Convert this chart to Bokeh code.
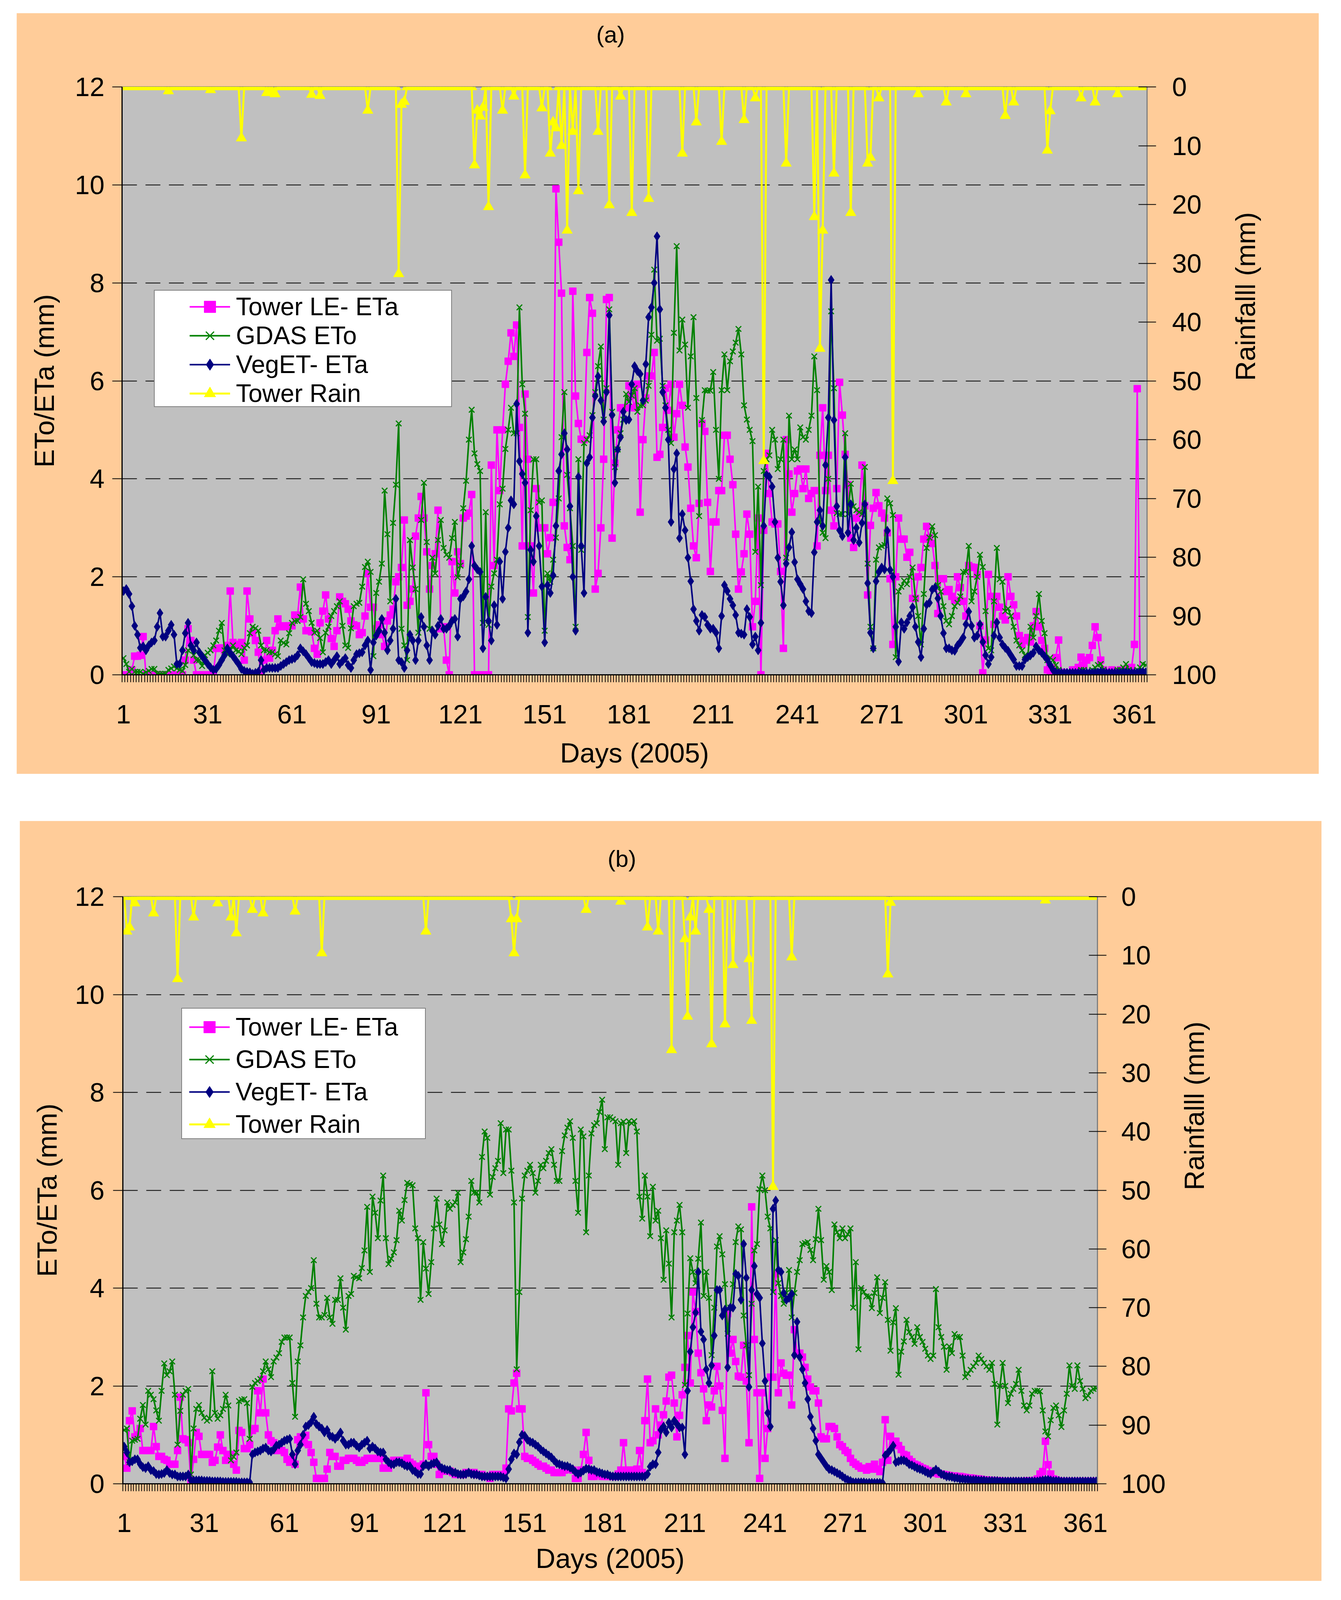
import math
from bokeh.plotting import figure
from bokeh.models import Range1d, LinearAxis, FixedTicker, Legend, LegendItem, Spacer, Title
from bokeh.layouts import column, row
from bokeh.embed import file_html
from bokeh.resources import INLINE

FONT = "Liberation Sans"

days = list(range(1, 366))
x_label_ticks = [1, 31, 61, 91, 121, 151, 181, 211, 241, 271, 301, 331, 361]
left_ticks = [0, 2, 4, 6, 8, 10, 12]
grid_ticks = [2, 4, 6, 8, 10]
rain_ticks = [0, 10, 20, 30, 40, 50, 60, 70, 80, 90, 100]
series_names = ["Tower LE- ETa", "GDAS ETo", "VegET- ETa", "Tower Rain"]
x_title = "Days (2005)"
y_title = "ETo/ETa (mm)"
y2_title = "Rainfalll (mm)"

# ---------------- Panel (a) ----------------
tower_a = [
 0.0, 0.0, 0.0, 0.1, 0.38, 0.38, 0.4, 0.78, 0.0, 0.0,
 0.0, 0.0, 0.0, 0.0, 0.0, 0.0, 0.0, 0.0, 0.0, 0.0,
 0.0, 0.0, 0.3, 0.94, 0.7, 0.3, 0.0, 0.0, 0.0, 0.0,
 0.0, 0.0, 0.02, 0.54, 0.54, 0.55, 0.5, 0.6, 1.71, 0.66,
 0.62, 0.6, 0.66, 0.3, 1.71, 1.14, 0.85, 0.7, 0.46, 0.02,
 0.3, 0.7, 0.34, 0.5, 0.9, 1.14, 0.98, 1.0, 0.98, 1.0,
 1.0, 1.22, 1.22, 1.79, 1.14, 0.9, 0.9, 0.88, 0.54, 0.42,
 1.06, 1.3, 1.63, 1.14, 0.74, 0.58, 0.9, 1.59, 1.5, 1.45,
 1.34, 1.1, 1.02, 1.0, 0.82, 0.86, 1.2, 2.07, 1.38, 1.38,
 0.94, 1.02, 0.82, 0.58, 1.1, 1.22, 1.34, 1.9, 2.0, 2.19,
 3.16, 1.42, 1.5, 1.75, 2.83, 3.2, 3.64, 3.2, 2.51, 1.75,
 2.23, 2.47, 3.36, 0.94, 0.98, 0.3, 0.0, 2.31, 1.67, 2.51,
 2.27, 3.2, 3.24, 3.3, 3.68, 0.0, 0.0, 0.0, 0.0, 0.0,
 0.0, 4.28, 2.23, 5.0, 3.76, 5.0, 5.93, 6.4, 6.98, 6.5,
 7.14, 5.05, 2.63, 5.73, 4.4, 2.63, 1.67, 3.8, 3.0, 3.0,
 3.0, 2.47, 2.8, 3.52, 9.92, 8.83, 7.79, 3.04, 2.6, 2.35,
 7.83, 5.69, 5.13, 4.81, 4.8, 6.58, 7.7, 7.38, 1.75, 2.07,
 3.0, 4.4, 7.66, 7.7, 2.79, 4.32, 5.0, 5.45, 5.45, 5.45,
 5.9, 5.7, 5.45, 5.93, 3.32, 4.8, 5.65, 6.1, 6.1, 6.58,
 4.44, 4.5, 5.05, 5.85, 5.4, 5.93, 4.85, 5.33, 5.93, 5.5,
 4.65, 4.24, 3.4, 2.63, 2.39, 3.5, 5.13, 4.97, 3.52, 2.11,
 3.12, 3.12, 3.76, 3.76, 4.89, 4.89, 4.4, 3.88, 2.87, 1.75,
 2.1, 2.47, 3.28, 2.87, 0.98, 1.5, 3.2, 0.0, 2.95, 4.52,
 3.7, 3.12, 3.08, 3.08, 2.11, 0.54, 4.8, 4.1, 3.32, 3.7,
 4.16, 4.2, 3.8, 4.2, 3.6, 3.7, 3.76, 2.63, 4.48, 5.45,
 3.76, 4.48, 3.36, 3.04, 3.8, 5.97, 5.3, 4.5, 3.88, 2.79,
 2.6, 3.2, 3.3, 4.28, 3.45, 1.63, 3.05, 3.4, 3.72, 3.45,
 3.3, 3.2, 2.9, 1.96, 0.62, 2.0, 3.2, 2.77, 2.77, 2.4,
 2.5, 1.56, 1.56, 2.0, 2.19, 2.77, 3.03, 2.8, 2.68, 2.23,
 1.25, 1.96, 1.96, 1.7, 1.74, 1.6, 1.52, 2.0, 1.78, 1.5,
 1.2, 2.23, 2.2, 2.19, 2.05, 1.0, 0.04, 0.71, 2.05, 1.6,
 1.03, 1.6, 1.38, 1.2, 1.12, 2.0, 1.6, 1.43, 1.2, 0.8,
 0.62, 0.7, 0.76, 0.67, 1.0, 1.29, 0.98, 0.7, 0.54, 0.1,
 0.05, 0.1, 0.35, 0.71, 0.05, 0.05, 0.0, 0.0, 0.1, 0.1,
 0.15, 0.36, 0.2, 0.3, 0.35, 0.6, 0.98, 0.76, 0.3, 0.1,
 0.05, 0.05, 0.1, 0.05, 0.05, 0.1, 0.05, 0.1, 0.1, 0.15,
 0.62, 5.84, 0.02, 0.0, 0.0]

gdas_a = [
 0.34, 0.22, 0.06, 0.12, 0.06, 0.06, 0.06, 0.02, 0.05, 0.08,
 0.12, 0.12, 0.02, 0.02, 0.02, 0.02, 0.1, 0.13, 0.17, 0.13,
 0.1, 0.08, 0.2, 0.5, 0.54, 0.4, 0.3, 0.3, 0.18, 0.4,
 0.45, 0.5, 0.6, 0.7, 0.9, 1.06, 0.5, 0.42, 0.5, 0.6,
 0.5, 0.48, 0.42, 0.55, 0.6, 0.85, 0.98, 0.95, 0.9, 0.6,
 0.5, 0.5, 0.46, 0.46, 0.42, 0.38, 0.7, 0.65, 0.62, 0.85,
 1.06, 1.1, 1.1, 1.18, 1.95, 1.45, 1.3, 1.06, 0.86, 0.9,
 0.75, 0.46, 0.86, 0.98, 1.2, 1.3, 1.4, 1.5, 1.0, 0.6,
 0.55, 0.95, 1.4, 1.45, 1.47, 1.8, 2.2, 2.31, 2.1, 0.38,
 1.67, 1.9, 2.27, 3.76, 2.87, 1.5, 3.1, 3.88, 5.13, 0.94,
 0.6, 0.3, 2.75, 2.19, 1.75, 0.86, 3.16, 3.92, 2.71, 0.94,
 2.39, 2.07, 2.75, 3.16, 2.59, 2.45, 2.39, 2.79, 3.12, 1.99,
 2.23, 3.4, 3.96, 4.8, 5.41, 4.52, 4.3, 4.16, 1.06, 3.32,
 1.02, 1.8, 2.07, 2.35, 3.48, 3.8, 4.61, 5.0, 5.45, 4.93,
 4.93, 7.5, 5.93, 5.33, 1.18, 3.36, 4.4, 4.4, 3.52, 3.56,
 0.9, 2.07, 1.9, 2.35, 2.8, 3.6, 4.85, 5.77, 4.08, 3.4,
 2.63, 0.98, 4.4, 2.55, 4.73, 4.8, 4.89, 5.3, 5.77, 6.3,
 6.7, 5.21, 5.85, 7.46, 5.37, 4.24, 4.6, 4.93, 5.21, 5.73,
 5.57, 5.7, 5.85, 5.37, 5.5, 5.5, 5.6, 5.9, 6.94, 8.27,
 6.82, 6.86, 5.9, 5.5, 5.0, 4.73, 6.98, 8.75, 6.62, 7.25,
 6.74, 5.45, 6.5, 7.3, 5.65, 3.24, 5.2, 5.81, 5.8, 5.8,
 6.18, 5.0, 4.0, 5.81, 6.54, 5.81, 6.4, 6.6, 6.78, 7.06,
 6.54, 5.5, 5.21, 5.0, 4.77, 2.51, 3.84, 1.83, 4.16, 4.4,
 4.48, 5.0, 4.8, 4.2, 4.4, 4.8, 2.39, 5.29, 4.4, 4.6,
 4.4, 5.05, 4.85, 4.8, 5.0, 5.29, 6.5, 5.81, 3.12, 2.9,
 2.79, 4.0, 7.42, 5.85, 3.3, 3.28, 3.28, 4.93, 3.28, 3.9,
 3.44, 3.36, 3.32, 3.28, 4.24, 2.27, 0.98, 0.54, 2.35, 2.6,
 2.63, 2.65, 3.6, 3.5, 3.26, 0.36, 1.7, 1.8, 1.92, 1.85,
 2.0, 2.19, 1.56, 1.2, 0.62, 1.65, 2.59, 2.8, 3.03, 2.85,
 1.83, 1.7, 1.4, 1.1, 1.03, 1.2, 1.4, 1.47, 1.6, 2.1,
 2.1, 2.63, 1.5, 1.7, 2.0, 2.45, 2.2, 1.3, 0.54, 0.5,
 1.5, 2.59, 1.95, 1.9, 1.3, 1.35, 1.2, 0.98, 0.7, 0.6,
 0.5, 0.4, 0.36, 0.98, 0.76, 1.2, 1.65, 1.1, 0.85, 0.3,
 0.35, 0.3, 0.2, 0.1, 0.04, 0.05, 0.05, 0.05, 0.05, 0.05,
 0.05, 0.1, 0.1, 0.05, 0.05, 0.1, 0.15, 0.2, 0.22, 0.1,
 0.05, 0.05, 0.05, 0.05, 0.1, 0.1, 0.15, 0.22, 0.1, 0.05,
 0.05, 0.1, 0.15, 0.22, 0.2]

veget_a = [
 1.71, 1.75, 1.65, 1.4, 1.0, 0.82, 0.55, 0.58, 0.5, 0.6,
 0.66, 0.7, 0.98, 1.26, 0.78, 0.78, 0.9, 1.02, 0.82, 0.22,
 0.22, 0.5, 0.85, 1.06, 0.6, 0.5, 0.66, 0.46, 0.38, 0.3,
 0.22, 0.15, 0.1, 0.12, 0.2, 0.3, 0.4, 0.54, 0.45, 0.38,
 0.3, 0.22, 0.12, 0.08, 0.06, 0.05, 0.02, 0.04, 0.06, 0.3,
 0.1, 0.14, 0.14, 0.14, 0.14, 0.14, 0.18, 0.22, 0.26, 0.3,
 0.32, 0.34, 0.4, 0.54, 0.48, 0.42, 0.34, 0.26, 0.24, 0.22,
 0.22, 0.22, 0.26, 0.3, 0.22, 0.3, 0.38, 0.22, 0.28, 0.34,
 0.2, 0.14, 0.3, 0.42, 0.44, 0.46, 0.6, 0.7, 0.1, 0.66,
 0.8, 0.9, 1.14, 0.86, 0.5, 0.7, 0.94, 1.55, 0.3, 0.26,
 0.14, 0.5, 0.82, 0.7, 0.3, 0.7, 1.18, 0.98, 0.6, 0.3,
 0.9, 0.82, 1.0, 1.14, 0.94, 0.94, 1.0, 1.1, 1.14, 0.78,
 1.55, 1.6, 1.7, 1.95, 2.63, 2.23, 2.15, 2.1, 0.54, 1.59,
 1.1, 0.7, 1.42, 1.02, 2.31, 1.55, 2.51, 3.0, 3.56, 3.48,
 5.53, 4.36, 4.1, 3.92, 0.86, 2.55, 2.31, 3.24, 2.63, 1.8,
 0.66, 1.83, 1.67, 2.03, 3.04, 4.16, 4.5, 4.93, 4.6, 3.44,
 2.0, 0.9, 4.04, 2.63, 1.67, 4.32, 4.44, 5.25, 5.69, 6.09,
 5.6, 5.17, 5.77, 7.34, 5.3, 3.92, 4.6, 4.85, 5.37, 5.2,
 5.21, 5.93, 6.3, 6.2, 6.14, 5.6, 6.34, 7.3, 7.5, 8.0,
 8.95, 7.46, 5.77, 5.45, 4.8, 3.12, 4.2, 4.52, 2.79, 3.28,
 2.95, 2.39, 1.91, 1.34, 1.1, 0.9, 1.22, 1.18, 1.02, 0.94,
 0.94, 0.86, 0.54, 1.2, 1.83, 1.71, 1.55, 1.42, 1.22, 0.86,
 0.84, 0.82, 1.34, 1.18, 0.62, 0.78, 0.5, 1.06, 3.04, 4.08,
 4.04, 3.84, 3.12, 2.39, 1.9, 1.42, 2.27, 2.6, 2.91, 2.3,
 1.95, 1.85, 1.75, 1.5, 1.3, 1.26, 2.5, 3.12, 3.36, 3.04,
 4.28, 5.25, 8.06, 5.2, 3.44, 2.95, 2.83, 4.44, 2.9, 3.48,
 2.75, 3.0, 2.7, 3.1, 3.48, 1.87, 0.86, 0.54, 1.91, 2.1,
 2.19, 2.15, 2.94, 2.14, 2.0, 0.98, 0.27, 1.07, 0.94, 1.07,
 1.2, 1.38, 0.98, 0.67, 0.36, 0.94, 1.43, 1.47, 1.74, 1.78,
 1.56, 1.2, 0.85, 0.54, 0.54, 0.5, 0.49, 0.6, 0.67, 0.76,
 1.03, 1.29, 1.0, 0.76, 0.8, 1.03, 0.67, 0.4, 0.22, 0.36,
 0.8, 1.07, 0.76, 0.62, 0.55, 0.49, 0.4, 0.31, 0.18, 0.18,
 0.18, 0.31, 0.36, 0.4, 0.45, 0.58, 0.5, 0.45, 0.38, 0.31,
 0.2, 0.1, 0.05, 0.04, 0.04, 0.04, 0.04, 0.04, 0.04, 0.04,
 0.04, 0.04, 0.04, 0.04, 0.04, 0.04, 0.04, 0.05, 0.06, 0.05,
 0.04, 0.04, 0.04, 0.04, 0.04, 0.04, 0.05, 0.05, 0.04, 0.04,
 0.04, 0.04, 0.05, 0.06, 0.05]

rain_a_days = [17, 32, 43, 52, 54, 55, 68, 71, 88, 99, 100, 101, 126, 127, 128, 129, 131,
               136, 140, 144, 150, 153, 154, 155, 157, 159, 161, 163, 170, 174, 178, 182,
               188, 200, 205, 214, 222, 226, 229, 237, 247, 249, 250, 254, 260, 266, 267,
               270, 275, 284, 294, 301, 315, 318, 330, 331, 342, 347, 355]
rain_a_mm = [0.7, 0.5, 8.7, 1.0, 0.8, 1.2, 1.3, 1.5, 4.0, 31.8, 3.0, 2.5, 13.3, 4.0, 5.0, 3.5, 20.4,
             4.0, 1.6, 15.0, 3.6, 11.3, 6.0, 7.0, 10.0, 24.4, 7.6, 17.7, 7.6, 20.1, 1.6, 21.4,
             19.0, 11.3, 6.0, 9.3, 5.6, 1.9, 63.6, 13.0, 22.1, 44.5, 24.4, 14.7, 21.4, 13.0, 12.0,
             1.9, 67.0, 1.2, 2.6, 1.2, 4.9, 2.6, 10.8, 4.1, 1.9, 2.6, 1.2]

# ---------------- Panel (b) ----------------
tower_b = [
 0.56, 0.32, 1.29, 1.49, 0.96, 1.0, 1.13, 0.68, 0.68, 0.68,
 0.68, 1.17, 0.76, 0.56, 0.56, 0.5, 0.48, 0.4, 0.4, 0.4,
 0.68, 1.77, 0.92, 0.9, 0.84, 0.03, 0.5, 1.05, 0.97, 0.6,
 0.6, 0.6, 0.6, 0.44, 0.48, 0.75, 1.0, 0.68, 0.48, 0.6,
 0.6, 0.4, 0.28, 1.09, 1.05, 0.72, 0.72, 0.8, 1.09, 1.13,
 1.9, 1.45, 2.14, 1.45, 1.0, 0.88, 0.84, 0.68, 0.68, 0.68,
 0.64, 0.5, 0.44, 0.48, 0.4, 0.9, 0.96, 0.84, 0.99, 0.8,
 0.64, 0.44, 0.11, 0.11, 0.11, 0.11, 0.3, 0.64, 0.56, 0.56,
 0.36, 0.36, 0.48, 0.48, 0.52, 0.52, 0.52, 0.48, 0.44, 0.44,
 0.48, 0.52, 0.52, 0.52, 0.52, 0.52, 0.52, 0.32, 0.32, 0.32,
 0.44, 0.48, 0.48, 0.48, 0.48, 0.44, 0.52, 0.44, 0.4, 0.36,
 0.36, 0.36, 0.4, 1.86, 0.8, 0.56, 0.56, 0.4, 0.19, 0.26,
 0.26, 0.26, 0.26, 0.23, 0.19, 0.19, 0.19, 0.19, 0.23, 0.23,
 0.23, 0.23, 0.19, 0.19, 0.19, 0.15, 0.15, 0.11, 0.19, 0.19,
 0.19, 0.19, 0.19, 0.32, 1.53, 1.49, 2.06, 2.26, 1.53, 1.53,
 0.56, 0.52, 0.52, 0.48, 0.44, 0.4, 0.36, 0.36, 0.32, 0.28,
 0.28, 0.23, 0.23, 0.23, 0.23, 0.28, 0.32, 0.3, 0.28, 0.11,
 0.11, 0.28, 0.6, 1.05, 0.48, 0.15, 0.15, 0.19, 0.19, 0.15,
 0.15, 0.15, 0.15, 0.15, 0.15, 0.2, 0.28, 0.84, 0.28, 0.28,
 0.28, 0.28, 0.3, 0.68, 0.23, 1.29, 2.14, 0.84, 0.88, 1.53,
 1.0, 1.2, 1.41, 1.69, 2.18, 2.22, 1.65, 0.96, 1.4, 1.82,
 2.38, 3.03, 2.06, 3.92, 3.52, 2.67, 2.27, 1.94, 1.29, 1.61,
 1.57, 1.9, 2.4, 2.0, 1.5, 0.52, 3.48, 2.67, 2.95, 2.5,
 2.2, 2.18, 2.83, 2.1, 0.84, 5.66, 2.95, 1.86, 0.11, 1.86,
 0.52, 1.13, 2.18, 2.18, 4.29, 1.86, 2.47, 2.26, 2.22, 2.22,
 1.61, 3.15, 2.67, 2.67, 2.59, 2.38, 2.14, 1.98, 1.9, 1.9,
 1.65, 0.96, 0.92, 0.92, 1.17, 1.17, 1.13, 0.96, 0.8, 0.76,
 0.68, 0.64, 0.52, 0.44, 0.4, 0.36, 0.32, 0.32, 0.28, 0.35,
 0.3, 0.4, 0.3, 0.25, 0.44, 1.31, 0.48, 0.97, 0.87, 0.87,
 0.78, 0.7, 0.6, 0.58, 0.5, 0.45, 0.4, 0.38, 0.35, 0.32,
 0.3, 0.27, 0.25, 0.24, 0.22, 0.2, 0.2, 0.19, 0.18, 0.17,
 0.16, 0.16, 0.15, 0.15, 0.14, 0.13, 0.12, 0.12, 0.11, 0.1,
 0.1, 0.09, 0.08, 0.08, 0.07, 0.07, 0.06, 0.06, 0.06, 0.05,
 0.05, 0.05, 0.05, 0.05, 0.05, 0.05, 0.05, 0.05, 0.06, 0.06,
 0.06, 0.07, 0.1, 0.2, 0.25, 0.87, 0.39, 0.2, 0.1, 0.08,
 0.06, 0.05, 0.05, 0.05, 0.05, 0.05, 0.05, 0.05, 0.05, 0.05,
 0.05, 0.05, 0.05, 0.05, 0.05]

gdas_b = [
 1.1, 1.13, 0.44, 0.88, 0.9, 0.92, 1.33, 1.61, 1.21, 1.9,
 1.82, 1.73, 1.5, 1.29, 1.9, 2.46, 2.22, 2.3, 2.5, 1.82,
 0.8, 1.49, 1.82, 1.9, 1.94, 0.19, 1.13, 1.53, 1.61, 1.45,
 1.35, 1.29, 1.33, 2.3, 1.45, 1.33, 1.4, 1.53, 1.82, 1.6,
 0.48, 0.55, 0.64, 1.69, 1.72, 1.73, 1.65, 0.92, 1.98, 2.06,
 2.1, 2.14, 2.3, 2.5, 2.34, 2.18, 2.5, 2.58, 2.67, 2.9,
 2.99, 2.99, 2.99, 2.06, 1.37, 2.5, 2.83, 3.4, 3.84, 3.92,
 4.0, 4.57, 3.68, 3.4, 3.4, 3.45, 3.8, 3.4, 3.27, 3.76,
 3.76, 4.2, 3.6, 3.15, 3.84, 3.88, 4.25, 4.22, 4.2, 4.41,
 4.77, 5.66, 4.33, 5.87, 5.54, 5.02, 5.79, 6.3, 5.02, 4.49,
 4.6, 4.73, 4.98, 5.58, 5.38, 5.8, 6.15, 6.12, 6.1, 5.22,
 5.02, 3.76, 4.94, 4.4, 3.88, 4.53, 5.22, 5.83, 5.3, 4.9,
 5.18, 5.75, 5.62, 5.7, 5.75, 5.95, 4.53, 4.73, 5.0, 5.46,
 6.19, 5.95, 5.95, 5.75, 6.68, 7.2, 7.07, 5.91, 6.27, 6.45,
 6.6, 7.37, 6.35, 7.24, 7.24, 6.4, 5.75, 2.34, 3.92, 5.83,
 6.3, 6.4, 6.52, 6.35, 5.95, 6.19, 6.52, 6.45, 6.6, 6.76,
 6.84, 6.52, 6.19, 6.19, 6.8, 7.12, 7.28, 7.41, 7.07, 6.19,
 5.54, 7.24, 7.1, 5.14, 6.3, 7.16, 7.33, 7.37, 7.6, 7.85,
 6.84, 7.49, 7.49, 7.45, 7.41, 6.52, 7.37, 7.4, 6.76, 7.41,
 7.37, 7.41, 7.2, 5.87, 5.42, 6.3, 5.87, 5.06, 6.07, 5.38,
 5.58, 5.02, 4.17, 5.18, 4.5, 3.4, 5.14, 5.38, 5.7, 5.14,
 2.02, 3.48, 4.61, 4.33, 4.1, 4.6, 5.34, 3.84, 4.33, 3.8,
 2.63, 3.6, 4.85, 5.06, 4.69, 4.08, 3.07, 3.6, 4.08, 4.94,
 5.26, 5.2, 3.44, 2.83, 2.22, 3.68, 4.77, 4.9, 6.02, 6.3,
 6.0, 5.46, 5.22, 3.92, 4.98, 4.1, 3.84, 3.68, 3.9, 4.37,
 3.4, 3.9, 4.33, 4.57, 4.9, 4.92, 4.94, 4.78, 4.57, 5.0,
 5.62, 4.98, 4.17, 4.45, 4.33, 3.96, 5.3, 5.14, 5.02, 5.22,
 5.02, 5.1, 5.22, 3.6, 4.53, 2.75, 4.0, 3.92, 3.83, 3.83,
 3.59, 3.9, 4.22, 3.49, 3.8, 4.12, 3.35, 2.72, 3.3, 3.59,
 2.23, 2.7, 2.91, 3.35, 3.1, 3.0, 2.86, 3.2, 3.0, 2.9,
 2.76, 2.62, 2.55, 2.62, 3.98, 3.2, 3.0, 2.8, 2.33, 2.81,
 2.67, 3.06, 3.0, 3.0, 2.62, 2.18, 2.25, 2.33, 2.4, 2.47,
 2.62, 2.55, 2.47, 2.4, 2.33, 2.47, 2.04, 1.21, 2.0, 2.47,
 2.0, 1.65, 1.84, 1.94, 2.04, 2.33, 1.9, 1.6, 1.5, 1.6,
 1.84, 1.9, 1.9, 1.89, 1.5, 1.07, 0.97, 1.3, 1.55, 1.6,
 1.4, 1.16, 1.5, 1.84, 2.42, 2.0, 1.94, 2.42, 2.1, 1.94,
 1.75, 1.8, 1.9, 1.94, 1.95]

veget_b = [
 0.76, 0.64, 0.44, 0.46, 0.5, 0.5, 0.4, 0.34, 0.32, 0.36,
 0.28, 0.26, 0.2, 0.19, 0.2, 0.22, 0.28, 0.22, 0.19, 0.19,
 0.15, 0.15, 0.15, 0.15, 0.19, 0.07, 0.07, 0.07, 0.07, 0.07,
 0.06, 0.06, 0.06, 0.05, 0.05, 0.05, 0.05, 0.04, 0.04, 0.04,
 0.04, 0.04, 0.04, 0.03, 0.03, 0.03, 0.03, 0.03, 0.6, 0.64,
 0.66, 0.68, 0.72, 0.74, 0.68, 0.66, 0.7, 0.78, 0.8, 0.84,
 0.88, 0.9, 0.92, 0.6, 0.4, 0.68, 0.8, 1.0, 1.17, 1.2,
 1.26, 1.37, 1.22, 1.17, 1.13, 1.05, 1.1, 0.98, 0.96, 0.92,
 0.97, 1.05, 0.88, 0.8, 0.8, 0.84, 0.84, 0.78, 0.74, 0.8,
 0.84, 0.88, 0.72, 0.76, 0.72, 0.66, 0.64, 0.64, 0.5, 0.44,
 0.4, 0.4, 0.44, 0.44, 0.42, 0.38, 0.36, 0.36, 0.28, 0.25,
 0.2, 0.2, 0.36, 0.4, 0.36, 0.4, 0.42, 0.44, 0.36, 0.32,
 0.3, 0.28, 0.28, 0.23, 0.23, 0.2, 0.19, 0.19, 0.2, 0.23,
 0.2, 0.19, 0.19, 0.17, 0.15, 0.15, 0.15, 0.15, 0.15, 0.15,
 0.15, 0.15, 0.13, 0.11, 0.3, 0.5, 0.62, 0.6, 0.85, 1.0,
 0.98, 0.9, 0.86, 0.84, 0.8, 0.76, 0.7, 0.66, 0.62, 0.58,
 0.54, 0.48, 0.42, 0.4, 0.38, 0.36, 0.36, 0.33, 0.3, 0.24,
 0.2, 0.23, 0.27, 0.31, 0.3, 0.28, 0.28, 0.24, 0.23, 0.21,
 0.19, 0.19, 0.16, 0.15, 0.15, 0.15, 0.15, 0.15, 0.15, 0.15,
 0.15, 0.15, 0.15, 0.15, 0.15, 0.15, 0.2, 0.35, 0.4, 0.4,
 0.64, 1.1, 1.17, 1.05, 1.25, 1.15, 1.29, 1.22, 1.15, 1.15,
 0.6, 1.9, 2.7, 3.2, 3.5, 4.33, 3.11, 2.95, 2.34, 2.06,
 2.42, 3.03, 3.96, 3.96, 3.44, 3.56, 2.38, 3.6, 3.6, 4.29,
 4.25, 3.76, 4.9, 4.21, 1.98, 3.96, 4.45, 3.88, 3.8, 2.87,
 2.1, 1.45, 1.17, 5.62, 5.79, 4.37, 4.33, 3.9, 3.76, 3.8,
 3.88, 2.63, 3.31, 2.59, 2.34, 2.06, 1.73, 1.37, 1.13, 0.88,
 0.6, 0.52, 0.44, 0.36, 0.3, 0.28, 0.25, 0.22, 0.19, 0.15,
 0.11, 0.08, 0.06, 0.03, 0.03, 0.03, 0.03, 0.03, 0.02, 0.02,
 0.02, 0.02, 0.02, 0.02, 0.02, 0.58, 0.63, 0.7, 0.78, 0.44,
 0.46, 0.48, 0.48, 0.45, 0.4, 0.38, 0.35, 0.32, 0.3, 0.28,
 0.25, 0.22, 0.2, 0.25, 0.29, 0.25, 0.2, 0.18, 0.15, 0.15,
 0.14, 0.12, 0.12, 0.1, 0.1, 0.09, 0.09, 0.08, 0.08, 0.08,
 0.07, 0.07, 0.07, 0.06, 0.06, 0.06, 0.06, 0.06, 0.05, 0.05,
 0.05, 0.05, 0.05, 0.05, 0.05, 0.05, 0.05, 0.05, 0.05, 0.05,
 0.05, 0.05, 0.05, 0.06, 0.07, 0.08, 0.08, 0.07, 0.06, 0.06,
 0.06, 0.05, 0.05, 0.05, 0.05, 0.05, 0.05, 0.05, 0.05, 0.05,
 0.05, 0.05, 0.05, 0.05, 0.05]

rain_b_days = [2, 3, 5, 12, 21, 27, 36, 41, 43, 49, 53, 65, 75, 114, 146, 147, 148, 174, 187,
               197, 201, 206, 211, 212, 213, 215, 220, 221, 226, 229, 235, 236, 244, 251,
               287, 288, 346]
rain_b_mm = [5.9, 5.2, 1.1, 2.8, 14.0, 3.5, 1.1, 3.5, 6.2, 2.2, 2.8, 2.5, 9.6, 5.9, 3.8, 9.6, 3.8,
             2.2, 0.8, 5.2, 5.9, 26.1, 7.2, 20.4, 3.5, 5.9, 2.2, 25.1, 21.7, 11.6, 10.6, 21.1,
             49.4, 10.3, 13.2, 1.0, 0.6]


def daily(ev_days, ev_mm):
    out = [0.0] * 365
    for d, v in zip(ev_days, ev_mm):
        out[d - 1] = v
    return out


def try_set(obj, **kw):
    for k, v in kw.items():
        try:
            setattr(obj, k, v)
        except Exception:
            pass


def make_panel(g):
    W, H = g["W"], g["H"]
    p = figure(width=W, height=H, x_range=Range1d(0.5, 365.5), y_range=Range1d(0, 12),
               output_backend="svg", toolbar_location=None, title=None,
               background_fill_color="#C0C0C0", border_fill_color="#FFCC99",
               min_border_left=g["bl"], min_border_right=g["br"],
               min_border_top=g["bt"], min_border_bottom=g["bb"])
    p.outline_line_color = "#808080"
    p.outline_line_width = 3
    p.extra_y_ranges = {"rain": Range1d(start=100, end=0)}

    # panel title: a spacer title next to the frame, then the visible title above it
    spacer = Title(text=" ", text_font_size="10px", standoff=g["spacer_standoff"],
                   text_color="#FFCC99")
    p.add_layout(spacer, "above")
    t = Title(text=g["tag"], align="left", vertical_align="bottom", offset=g["title_offset"],
              standoff=0, text_font=FONT, text_font_size="60px", text_font_style="normal",
              text_color="black")
    p.add_layout(t, "above")

    p.xgrid.visible = False
    p.ygrid.ticker = FixedTicker(ticks=grid_ticks)
    p.ygrid.grid_line_color = "black"
    p.ygrid.grid_line_width = 2
    p.ygrid.grid_line_dash = "38 22"

    xa = p.xaxis[0]
    xa.ticker = FixedTicker(ticks=x_label_ticks, minor_ticks=[d + 0.5 for d in range(0, 366)])
    xa.major_tick_line_color = None
    xa.major_tick_out = 0
    xa.major_tick_in = 0
    xa.minor_tick_out = 19
    xa.minor_tick_in = 0
    xa.minor_tick_line_color = "black"
    xa.minor_tick_line_width = 2
    xa.axis_line_color = "black"
    xa.axis_line_width = 3
    xa.major_label_standoff = g["x_ls"]
    xa.axis_label = x_title
    xa.axis_label_standoff = g["x_ts"]

    ya = p.yaxis[0]
    ya.ticker = FixedTicker(ticks=left_ticks)
    ya.minor_tick_line_color = None
    ya.major_tick_out = 25
    ya.major_tick_in = 0
    ya.major_tick_line_color = "black"
    ya.major_tick_line_width = 2
    ya.axis_line_color = "black"
    ya.axis_line_width = 3
    ya.major_label_standoff = g["y_ls"]
    ya.axis_label = y_title
    ya.axis_label_standoff = g["y_ts"]

    ra = LinearAxis(y_range_name="rain", ticker=FixedTicker(ticks=rain_ticks))
    ra.minor_tick_line_color = None
    ra.major_tick_in = 22
    ra.major_tick_out = 23
    ra.major_tick_line_color = "black"
    ra.major_tick_line_width = 2
    ra.axis_line_color = "#808080"
    ra.axis_line_width = 3
    ra.major_label_standoff = g["r_ls"]
    ra.axis_label = y2_title
    ra.axis_label_standoff = g["r_ts"]
    try_set(ra, axis_label_orientation=math.pi / 2)
    p.add_layout(ra, "right")

    for ax in (xa, ya, ra):
        ax.major_label_text_font = FONT
        ax.major_label_text_font_size = "68px"
        ax.major_label_text_color = "black"
        ax.axis_label_text_font = FONT
        ax.axis_label_text_font_size = "70px"
        ax.axis_label_text_font_style = "normal"
        ax.axis_label_text_color = "black"

    # series
    tower, gdas, veget, rain = g["tower"], g["gdas"], g["veget"], g["rain"]
    r1 = p.line(days, tower, line_color="#FF00FF", line_width=4)
    s1 = p.scatter(days, tower, marker="square", size=18, fill_color="#FF00FF", line_color="#FF00FF")
    r2 = p.line(days, gdas, line_color="#008000", line_width=4)
    s2 = p.scatter(days, gdas, marker="x", size=20, line_color="#008000", line_width=3)
    r3 = p.line(days, veget, line_color="#000080", line_width=4)
    s3 = p.scatter(days, veget, marker="diamond", size=24, fill_color="#000080", line_color="#000080")
    r4 = p.line(days, rain, line_color="#FFFF00", line_width=5, y_range_name="rain")
    s4 = p.scatter(days, rain, marker="triangle", size=27, fill_color="#FFFF00", line_color="#FFFF00",
                   y_range_name="rain")

    # legend frame (white box with black border)
    bx, by, bw, bh = g["box"]
    box_leg = Legend(items=[LegendItem(label=" ", renderers=[])], location=(bx, by),
                     background_fill_color="white", background_fill_alpha=1.0,
                     border_line_color="black", border_line_width=2,
                     label_text_font_size="10px", glyph_width=1, glyph_height=bh,
                     label_width=bw - 1, label_height=bh, label_standoff=0,
                     padding=0, spacing=0, margin=0)
    p.add_layout(box_leg, "center")

    items = [LegendItem(label=series_names[0], renderers=[r1, s1]),
             LegendItem(label=series_names[1], renderers=[r2, s2]),
             LegendItem(label=series_names[2], renderers=[r3, s3]),
             LegendItem(label=series_names[3], renderers=[r4, s4])]
    leg = Legend(items=items, location=g["leg_xy"], orientation="vertical",
                 background_fill_alpha=0.0, border_line_color=None,
                 label_text_font=FONT, label_text_font_size="64px", label_text_color="black",
                 glyph_width=104, glyph_height=74, label_height=74,
                 label_standoff=15, spacing=g["leg_spacing"], padding=0, margin=0)
    p.add_layout(leg, "center")
    return p


geom_a = dict(tag="(a)", tower=tower_a, gdas=gdas_a, veget=veget_a,
              rain=daily(rain_a_days, rain_a_mm),
              W=3334, H=1948, bl=270, br=440, bt=189, bb=254,
              box=(82, 685, 759, 296), leg_xy=(173, 683), leg_spacing=0,
              spacer_standoff=88, title_offset=1214,
              x_ls=58, x_ts=34, y_ls=20, y_ts=36, r_ls=41, r_ts=72)
geom_b = dict(tag="(b)", tower=tower_b, gdas=gdas_b, veget=veget_b,
              rain=daily(rain_b_days, rain_b_mm),
              W=3333, H=1946, bl=264, br=574, bt=194, bb=249,
              box=(150, 882, 622, 332), leg_xy=(170, 883), leg_spacing=9,
              spacer_standoff=51, title_offset=1241,
              x_ls=57, x_ts=26, y_ls=22, y_ts=29, r_ls=38, r_ts=71)

pa = make_panel(geom_a)
pb = make_panel(geom_b)

layout = column(Spacer(height=33),
                row(Spacer(width=42), pa),
                Spacer(height=120),
                row(Spacer(width=50), pb))

open("out.html", "w").write(file_html(layout, INLINE))
